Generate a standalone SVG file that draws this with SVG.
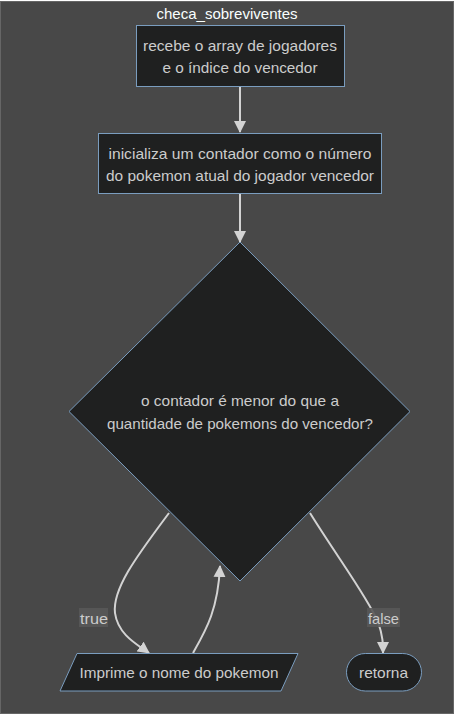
<svg xmlns="http://www.w3.org/2000/svg" width="454" height="716" viewBox="0 0 454 716">
<style>
text{font-family:"Liberation Sans",Arial,sans-serif;font-size:15px;fill:#cccccc;text-anchor:middle;dominant-baseline:central}
.node{fill:#1f2020;stroke:#7a9dbf;stroke-width:1}
.edge{fill:none;stroke:#d3d3d3;stroke-width:2}
.lbl{fill:#585858;opacity:0.9}
.title{fill:#f9fffe}
</style>
<defs>
<marker id="arrow" viewBox="0 0 10 10" refX="9" refY="5" markerWidth="6" markerHeight="6" markerUnits="userSpaceOnUse" orient="auto" style="overflow:visible">
<path d="M0,0 L10,5 L0,10 z" fill="#d3d3d3" transform="scale(1.2) translate(-1.5,-0.8)"/>
</marker>
<marker id="ah" viewBox="0 0 12 12" refX="11" refY="6" markerWidth="12" markerHeight="12" markerUnits="userSpaceOnUse" orient="auto">
<path d="M0,0 L12,6 L0,12 z" fill="#d3d3d3"/>
</marker>
</defs>
<rect x="0.5" y="1.5" width="453" height="712" fill="#484848" stroke="#666666" stroke-width="1"/>
<text class="title" x="227" y="13" textLength="141" lengthAdjust="spacingAndGlyphs">checa_sobreviventes</text>
<g id="connectors">
<path class="edge" d="M240,86 L240,132" marker-end="url(#ah)"/>
<path class="edge" d="M240,193 L240,242" marker-end="url(#ah)"/>
<path class="edge" d="M169,513 C140,552 112,588 115,613 C118,635 138,645 149,653" marker-end="url(#ah)"/>
<path class="edge" d="M193,653 C206,630 218,610 220,566" marker-end="url(#ah)"/>
<path class="edge" d="M310,513 C338,558 368,598 378,622 C383,636 383,644 383,653" marker-end="url(#ah)"/>
<rect class="lbl" x="79" y="608" width="29" height="19"/>
<text x="94" y="618" textLength="28" lengthAdjust="spacingAndGlyphs">true</text>
<rect class="lbl" x="367" y="608" width="33" height="19"/>
<text x="383.5" y="618" textLength="31" lengthAdjust="spacingAndGlyphs">false</text>
</g>
<g id="n1">
<rect class="node" x="136.5" y="25.5" width="208" height="61"/>
<text x="240" y="45" textLength="194" lengthAdjust="spacingAndGlyphs">recebe o array de jogadores</text>
<text x="240" y="67" textLength="155" lengthAdjust="spacingAndGlyphs">e o índice do vencedor</text>
</g>
<g id="n2">
<rect class="node" x="98.5" y="133.5" width="283" height="60"/>
<text x="240" y="153" textLength="263" lengthAdjust="spacingAndGlyphs">inicializa um contador como o número</text>
<text x="240" y="175" textLength="268" lengthAdjust="spacingAndGlyphs">do pokemon atual do jogador vencedor</text>
</g>
<g id="n3">
<polygon class="node" points="240,242 410,411.5 240,581 69,411.5"/>
<text x="240" y="400" textLength="198" lengthAdjust="spacingAndGlyphs">o contador é menor do que a</text>
<text x="240" y="423" textLength="266" lengthAdjust="spacingAndGlyphs">quantidade de pokemons do vencedor?</text>
</g>
<g id="n4">
<polygon class="node" points="77,653.5 298,653.5 281,691 60,691"/>
<text x="179" y="672" textLength="199" lengthAdjust="spacingAndGlyphs">Imprime o nome do pokemon</text>
</g>
<g id="n5">
<rect class="node" x="346.5" y="653.5" width="75" height="37.5" rx="18.75" ry="18.75"/>
<text x="383.5" y="672" textLength="49" lengthAdjust="spacingAndGlyphs">retorna</text>
</g>
</svg>
